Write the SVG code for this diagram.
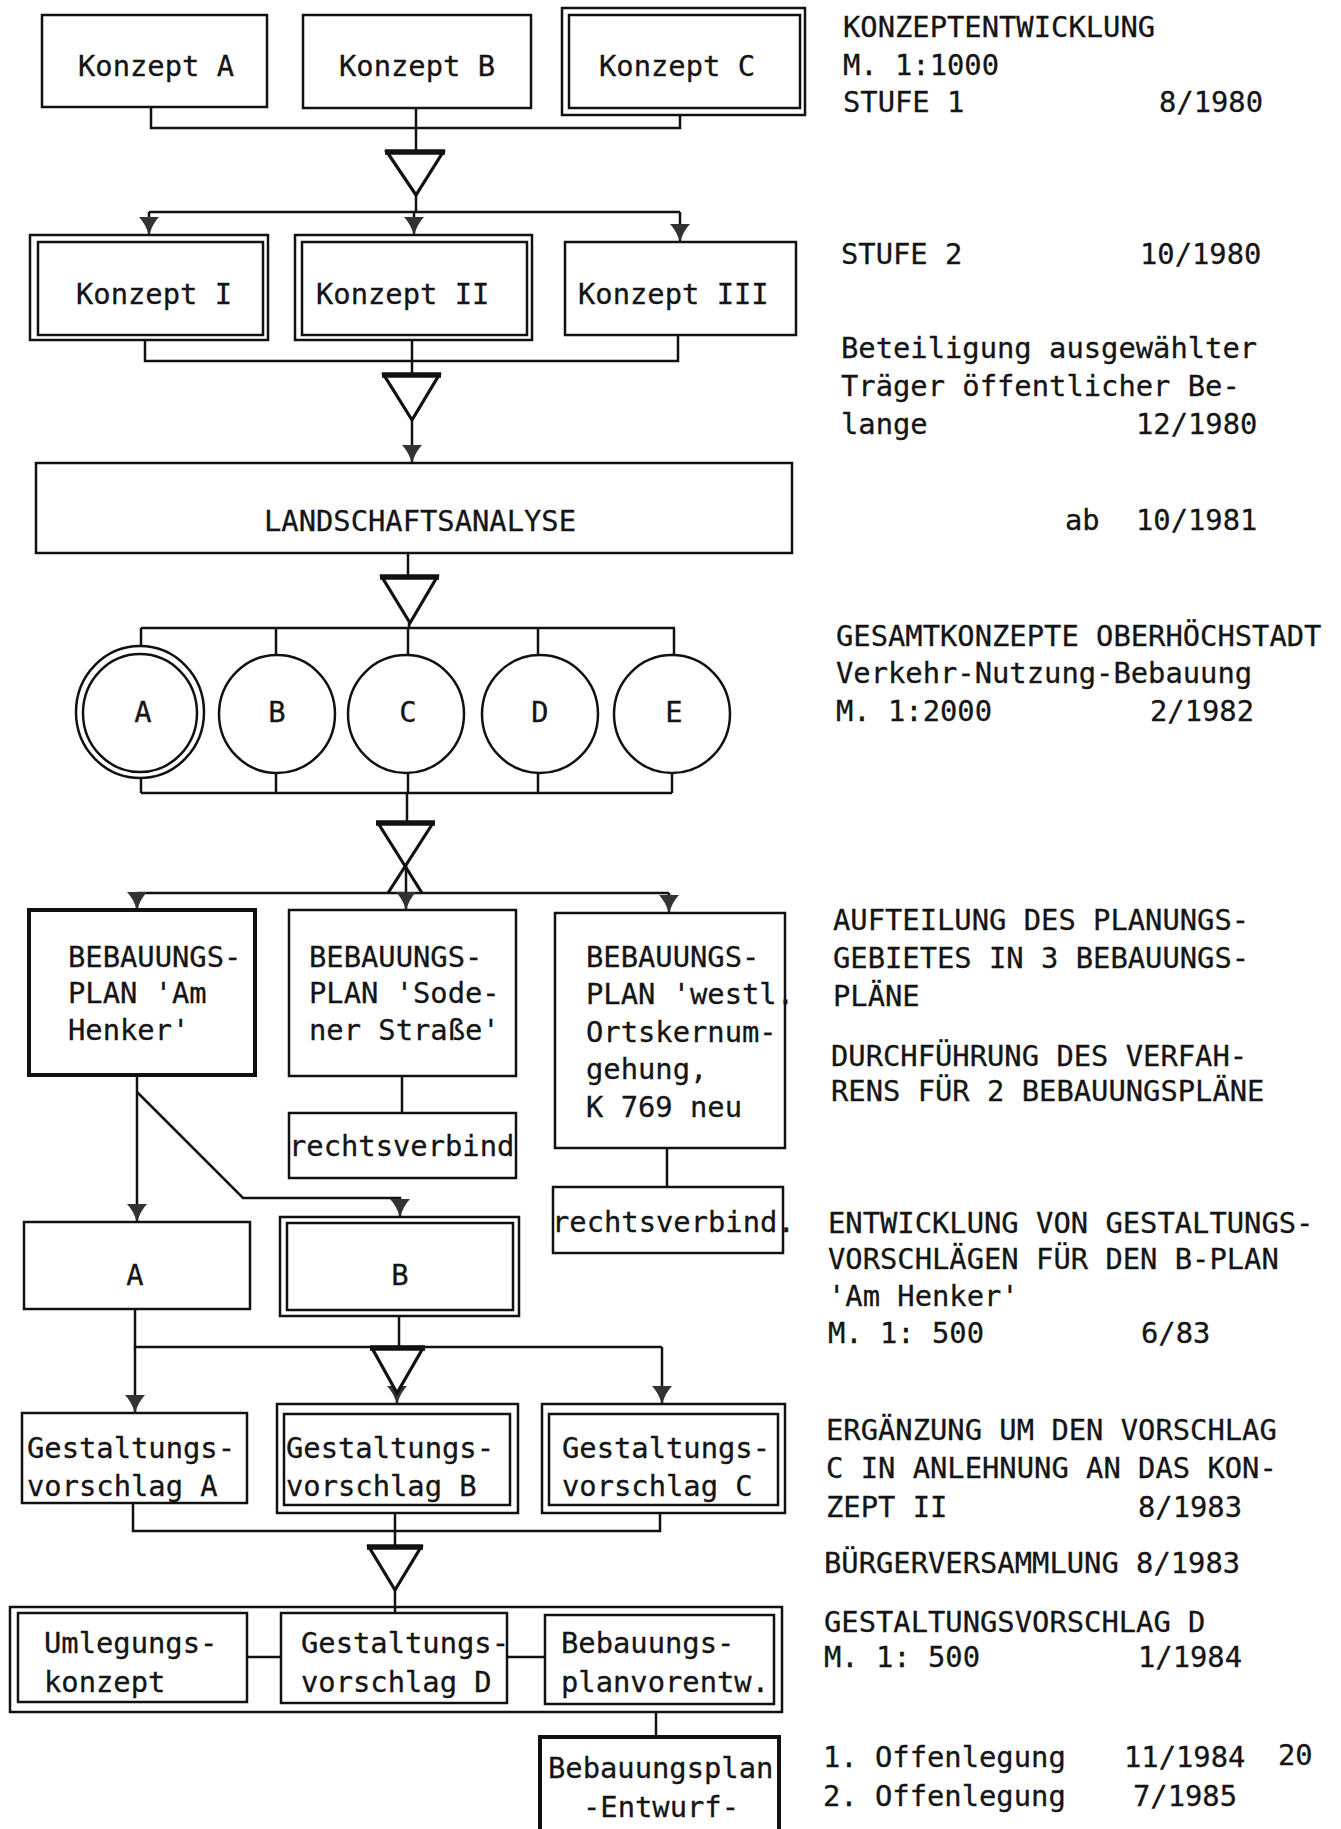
<svg xmlns="http://www.w3.org/2000/svg" width="1341" height="1829" viewBox="0 0 1341 1829">
<defs>
<style>
.bx{fill:none;stroke:#111;stroke-width:2.5}
.bk{fill:none;stroke:#111;stroke-width:4}
.ln{fill:none;stroke:#111;stroke-width:2.5}
.tri{fill:#fff;stroke:#111;stroke-width:3.2;stroke-linejoin:miter}
.tt{stroke:#111;stroke-width:5.5}
.t{font-family:"DejaVu Sans Mono","Liberation Mono",monospace;font-size:28.8px;fill:#151515;stroke:#151515;stroke-width:0.3}
.c{text-anchor:middle}
</style>
<marker id="ah" markerUnits="userSpaceOnUse" markerWidth="18" markerHeight="20" viewBox="0 0 18 20" refX="18" refY="10" orient="auto"><path d="M0,0 Q6,6 18,10 Q6,14 0,20 z" fill="#333"/></marker>
</defs>
<rect width="1341" height="1829" fill="#fff"/>

<g id="connectors">
<path class="ln" d="M151,107 V128 H680 V115 M416,108 V152 M416,195 V212"/>
<path class="ln" d="M149,212 H680"/>
<path class="ln" d="M149,212 V235" marker-end="url(#ah)"/>
<path class="ln" d="M414,212 V235" marker-end="url(#ah)"/>
<path class="ln" d="M680,212 V242" marker-end="url(#ah)"/>
<polygon class="tri" points="387,152 443,152 416,195"/><line class="tt" x1="385" y1="152" x2="445" y2="152"/>
<path class="ln" d="M145,340 V361 H678 V335 M412,340 V375"/>
<path class="ln" d="M412,420 V463" marker-end="url(#ah)"/>
<polygon class="tri" points="384,375 439,375 412,420"/><line class="tt" x1="382" y1="375" x2="441" y2="375"/>
<path class="ln" d="M408,553 V577 M409,623 V628 M141,628 H675 M141,628 V647 M276,628 V655 M408,628 V654 M538,628 V654 M674,628 V654"/>
<polygon class="tri" points="382,577 437,577 410,623"/><line class="tt" x1="380" y1="577" x2="439" y2="577"/>
<path class="ln" d="M141,778 V793 M276,773 V793 M408,773 V793 M538,773 V793 M672,773 V793 M141,793 H672 M407,793 V823"/>
<line class="ln" x1="378" y1="823" x2="422" y2="893" style="stroke-width:3.2"/>
<line class="ln" x1="433" y1="823" x2="388" y2="893" style="stroke-width:3.2"/>
<line class="tt" x1="376" y1="823" x2="435" y2="823"/>
<path class="ln" d="M137,893 H669"/>
<path class="ln" d="M406,865 V910" marker-end="url(#ah)"/>
<path class="ln" d="M137,893 V910" marker-end="url(#ah)"/>
<path class="ln" d="M669,893 V913" marker-end="url(#ah)"/>
<path class="ln" d="M402,1076 V1113 M667,1148 V1187"/>
<path class="ln" d="M137,1075 V1222" marker-end="url(#ah)"/>
<path class="ln" d="M137,1092 L243,1198 H400 V1217" marker-end="url(#ah)"/>
<path class="ln" d="M135,1309 V1347 H662 M399,1316 V1347"/>
<path class="ln" d="M135,1347 V1413" marker-end="url(#ah)"/>
<path class="ln" d="M662,1347 V1404" marker-end="url(#ah)"/>
<path class="ln" d="M397,1386 V1404" marker-end="url(#ah)"/>
<polygon class="tri" points="372,1348 423,1348 397,1393"/><line class="tt" x1="370" y1="1348" x2="425" y2="1348"/>
<path class="ln" d="M133,1503 V1531 H660 V1513 M395,1513 V1547 M395,1590 V1613"/>
<polygon class="tri" points="369,1547 421,1547 395,1590"/><line class="tt" x1="367" y1="1547" x2="423" y2="1547"/>
<path class="ln" d="M247,1657 H281 M507,1657 H545 M656,1712 V1737"/>
</g>

<g id="konzeptA"><rect class="bx" x="42" y="15" width="225" height="92"/><text class="t" x="78" y="76">Konzept A</text></g>
<g id="konzeptB"><rect class="bx" x="303" y="15" width="228" height="93"/><text class="t" x="339" y="76">Konzept B</text></g>
<g id="konzeptC"><rect class="bx" x="562" y="8" width="243" height="107"/><rect class="bx" x="569" y="15" width="231" height="93"/><text class="t" x="599" y="76">Konzept C</text></g>

<g id="konzeptI"><rect class="bx" x="30" y="235" width="238" height="105"/><rect class="bx" x="38" y="242" width="225" height="93"/><text class="t" x="76" y="304">Konzept I</text></g>
<g id="konzeptII"><rect class="bx" x="295" y="235" width="237" height="105"/><rect class="bx" x="302" y="242" width="225" height="93"/><text class="t" x="316" y="304">Konzept II</text></g>
<g id="konzeptIII"><rect class="bx" x="565" y="242" width="231" height="93"/><text class="t" x="578" y="304">Konzept III</text></g>

<g id="landschaft"><rect class="bx" x="36" y="463" width="756" height="90"/><text class="t c" x="420" y="531">LANDSCHAFTSANALYSE</text></g>

<g id="circleA"><ellipse class="bx" cx="140" cy="712" rx="64" ry="66"/><ellipse class="bx" cx="140" cy="713" rx="57" ry="59"/><text class="t c" x="143" y="722">A</text></g>
<g id="circleB"><ellipse class="bx" cx="277" cy="714" rx="58" ry="59"/><text class="t c" x="277" y="722">B</text></g>
<g id="circleC"><ellipse class="bx" cx="406" cy="714" rx="58" ry="59"/><text class="t c" x="408" y="722">C</text></g>
<g id="circleD"><ellipse class="bx" cx="540" cy="714" rx="58" ry="59"/><text class="t c" x="540" y="722">D</text></g>
<g id="circleE"><ellipse class="bx" cx="672" cy="714" rx="58" ry="59"/><text class="t c" x="674" y="722">E</text></g>

<g id="bplanHenker"><rect class="bk" x="29" y="910" width="226" height="165"/>
<text class="t" x="68" y="967">BEBAUUNGS-</text><text class="t" x="68" y="1003">PLAN 'Am</text><text class="t" x="68" y="1040">Henker'</text></g>
<g id="bplanSodener"><rect class="bx" x="289" y="910" width="227" height="166"/>
<text class="t" x="309" y="967">BEBAUUNGS-</text><text class="t" x="309" y="1003">PLAN 'Sode-</text><text class="t" x="309" y="1040">ner Straße'</text></g>
<g id="bplanWestl"><rect class="bx" x="555" y="913" width="230" height="235"/>
<text class="t" x="586" y="967">BEBAUUNGS-</text><text class="t" x="586" y="1004">PLAN 'westl.</text><text class="t" x="586" y="1042">Ortskernum-</text><text class="t" x="586" y="1079">gehung,</text><text class="t" x="586" y="1117">K 769 neu</text></g>

<g id="rechts1"><rect class="bx" x="289" y="1113" width="227" height="65"/><text class="t" x="289" y="1156">rechtsverbind</text></g>
<g id="rechts2"><rect class="bx" x="553" y="1187" width="230" height="66"/><text class="t" x="552" y="1232">rechtsverbind.</text></g>

<g id="boxA"><rect class="bx" x="24" y="1222" width="226" height="87"/><text class="t c" x="135" y="1285">A</text></g>
<g id="boxB"><rect class="bx" x="280" y="1217" width="239" height="99"/><rect class="bx" x="287" y="1223" width="226" height="87"/><text class="t c" x="400" y="1285">B</text></g>

<g id="gestA"><rect class="bx" x="22" y="1413" width="225" height="90"/><text class="t" x="27" y="1458">Gestaltungs-</text><text class="t" x="27" y="1496">vorschlag A</text></g>
<g id="gestB"><rect class="bx" x="277" y="1404" width="241" height="109"/><rect class="bx" x="284" y="1414" width="226" height="91"/><text class="t" x="286" y="1458">Gestaltungs-</text><text class="t" x="286" y="1496">vorschlag B</text></g>
<g id="gestC"><rect class="bx" x="542" y="1404" width="243" height="109"/><rect class="bx" x="549" y="1414" width="229" height="91"/><text class="t" x="562" y="1458">Gestaltungs-</text><text class="t" x="562" y="1496">vorschlag C</text></g>

<g id="groupD"><rect class="bx" x="10" y="1607" width="772" height="105"/></g>
<g id="umlegung"><rect class="bx" x="18" y="1613" width="229" height="89"/><text class="t" x="44" y="1653">Umlegungs-</text><text class="t" x="44" y="1692">konzept</text></g>
<g id="gestD"><rect class="bx" x="281" y="1613" width="226" height="90"/><text class="t" x="301" y="1653">Gestaltungs-</text><text class="t" x="301" y="1692">vorschlag D</text></g>
<g id="bplanVor"><rect class="bx" x="545" y="1615" width="229" height="89"/><text class="t" x="561" y="1653">Bebauungs-</text><text class="t" x="561" y="1692">planvorentw.</text></g>

<g id="bplanEntwurf"><rect class="bk" x="540" y="1737" width="239" height="110"/><text class="t" x="548" y="1778">Bebauungsplan</text><text class="t" x="583" y="1817">-Entwurf-</text></g>

<g id="notes">
<text class="t" x="843" y="37">KONZEPTENTWICKLUNG</text>
<text class="t" x="843" y="75">M. 1:1000</text>
<text class="t" x="843" y="112">STUFE 1</text><text class="t" x="1159" y="112">8/1980</text>
<text class="t" x="841" y="264">STUFE 2</text><text class="t" x="1140" y="264">10/1980</text>
<text class="t" x="841" y="358">Beteiligung ausgewählter</text>
<text class="t" x="841" y="396">Träger öffentlicher Be-</text>
<text class="t" x="841" y="434">lange</text><text class="t" x="1136" y="434">12/1980</text>
<text class="t" x="1065" y="530">ab</text><text class="t" x="1136" y="530">10/1981</text>
<text class="t" x="836" y="646">GESAMTKONZEPTE OBERHÖCHSTADT</text>
<text class="t" x="836" y="683">Verkehr-Nutzung-Bebauung</text>
<text class="t" x="836" y="721">M. 1:2000</text><text class="t" x="1150" y="721">2/1982</text>
<text class="t" x="833" y="930">AUFTEILUNG DES PLANUNGS-</text>
<text class="t" x="833" y="968">GEBIETES IN 3 BEBAUUNGS-</text>
<text class="t" x="833" y="1006">PLÄNE</text>
<text class="t" x="831" y="1066">DURCHFÜHRUNG DES VERFAH-</text>
<text class="t" x="831" y="1101">RENS FÜR 2 BEBAUUNGSPLÄNE</text>
<text class="t" x="828" y="1233">ENTWICKLUNG VON GESTALTUNGS-</text>
<text class="t" x="828" y="1269">VORSCHLÄGEN FÜR DEN B-PLAN</text>
<text class="t" x="828" y="1306">'Am Henker'</text>
<text class="t" x="828" y="1343">M. 1: 500</text><text class="t" x="1141" y="1343">6/83</text>
<text class="t" x="826" y="1440">ERGÄNZUNG UM DEN VORSCHLAG</text>
<text class="t" x="826" y="1478">C IN ANLEHNUNG AN DAS KON-</text>
<text class="t" x="826" y="1517">ZEPT II</text><text class="t" x="1138" y="1517">8/1983</text>
<text class="t" x="824" y="1573">BÜRGERVERSAMMLUNG 8/1983</text>
<text class="t" x="824" y="1632">GESTALTUNGSVORSCHLAG D</text>
<text class="t" x="824" y="1667">M. 1: 500</text><text class="t" x="1138" y="1667">1/1984</text>
<text class="t" x="823" y="1767">1. Offenlegung</text><text class="t" x="1124" y="1767">11/1984</text><text class="t" x="1278" y="1765">20</text>
<text class="t" x="823" y="1806">2. Offenlegung</text><text class="t" x="1133" y="1806">7/1985</text>
</g>
</svg>
